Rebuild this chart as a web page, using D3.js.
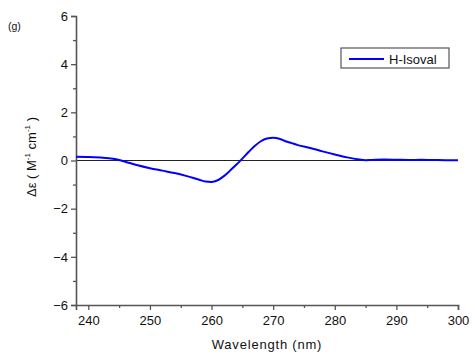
<!DOCTYPE html>
<html>
<head>
<meta charset="utf-8">
<script src="https://cdn.jsdelivr.net/npm/d3@7"></script>
<style>
  body { margin: 0; background: #fff; }
  svg { font-family: "Liberation Sans", Arial, sans-serif; }
</style>
</head>
<body>
<div id="chart"></div>
<script>
// CD spectrum
var wavelength = [238, 240, 242, 244, 245, 246, 248, 250, 252, 254, 256, 258, 259, 260, 261, 262, 263, 264, 265, 266, 267, 268, 269, 270, 271, 272, 273, 274, 276, 278, 280, 282, 284, 285, 286, 288, 290, 292, 294, 296, 298, 300];
var deltaEps   = [0.16, 0.15, 0.12, 0.07, 0.02, -0.05, -0.2, -0.32, -0.42, -0.52, -0.65, -0.8, -0.87, -0.89, -0.82, -0.65, -0.42, -0.18, 0.08, 0.35, 0.6, 0.8, 0.91, 0.94, 0.9, 0.8, 0.72, 0.64, 0.52, 0.38, 0.25, 0.13, 0.04, 0.01, 0.02, 0.04, 0.03, 0.02, 0.03, 0.02, 0.01, 0.01];
var xTicks = [240, 250, 260, 270, 280, 290, 300];
var yTicks = [-6, -4, -2, 0, 2, 4, 6];
var seriesName = 'H-Isoval';

var width = 475, height = 358;
var margin = {left: 76, right: 17, top: 16, bottom: 53};

var svg = d3.select('#chart')
    .append('svg')
    .attr('width', width)
    .attr('height', height);

var x = d3.scaleLinear()
    .domain([238, 300])
    .range([margin.left, width - margin.right]);
var y = d3.scaleLinear()
    .domain([-6, 6])
    .range([height - margin.bottom, margin.top]);

var axisColor = '#555';

// zero line
svg.append('line')
    .attr('x1', x(238)).attr('x2', x(300))
    .attr('y1', y(0)).attr('y2', y(0))
    .attr('stroke', '#222')
    .attr('stroke-width', 1);

// minor ticks
var xMinor = d3.range(245, 300, 10);
var yMinor = d3.range(-5, 6, 2);

svg.append('g')
    .attr('transform', 'translate(0,' + y(-6) + ')')
    .call(d3.axisBottom(x).tickValues(xTicks).tickSize(5).tickPadding(6).tickFormat(d3.format('d')));
svg.append('g')
    .attr('transform', 'translate(0,' + y(-6) + ')')
    .call(d3.axisBottom(x).tickValues(xMinor).tickSize(3).tickFormat(''))
    .call(g => g.select('.domain').remove());

svg.append('g')
    .attr('transform', 'translate(' + x(238) + ',0)')
    .call(d3.axisLeft(y).tickValues(yTicks).tickSize(5).tickPadding(3).tickFormat(d3.format('d')));
svg.append('g')
    .attr('transform', 'translate(' + x(238) + ',0)')
    .call(d3.axisLeft(y).tickValues(yMinor).tickSize(3).tickFormat(''))
    .call(g => g.select('.domain').remove());

svg.selectAll('.domain, .tick line')
    .attr('stroke', axisColor)
    .attr('stroke-width', 1.3);
svg.selectAll('.domain').attr('stroke-width', 1.6);
svg.selectAll('.tick text')
    .attr('fill', '#111')
    .style('font-size', '13px')
    .style('font-family', '"Liberation Sans", Arial, sans-serif');

// curve
var line = d3.line()
    .x(function(d, i) { return x(wavelength[i]); })
    .y(function(d) { return y(d); })
    .curve(d3.curveMonotoneX);

svg.append('path')
    .datum(deltaEps)
    .attr('d', line)
    .attr('fill', 'none')
    .attr('stroke', '#0000ff')
    .attr('stroke-width', 2);

// axis titles
svg.append('text')
    .attr('x', (x(238) + x(300)) / 2)
    .attr('y', 349)
    .attr('text-anchor', 'middle')
    .attr('fill', '#111')
    .style('font-size', '13px')
    .style('letter-spacing', '0.8px')
    .text('Wavelength (nm)');

var ylab = svg.append('text')
    .attr('transform', 'translate(36,157) rotate(-90)')
    .attr('text-anchor', 'middle')
    .attr('fill', '#111')
    .style('font-size', '13px');
ylab.append('tspan').text('\u0394\u03b5 ( M');
ylab.append('tspan').attr('dy', -6).style('font-size', '8px').text('-1');
ylab.append('tspan').attr('dy', 6).text(' cm');
ylab.append('tspan').attr('dy', -6).style('font-size', '8px').text('-1');
ylab.append('tspan').attr('dy', 6).text(' )');

svg.append('text')
    .attr('x', 8)
    .attr('y', 30)
    .attr('fill', '#111')
    .style('font-size', '10.5px')
    .text('(g)');

// legend
var legend = svg.append('g').attr('transform', 'translate(341,48)');
legend.append('rect')
    .attr('width', 108)
    .attr('height', 20)
    .attr('fill', '#fff')
    .attr('stroke', axisColor)
    .attr('stroke-width', 1.2);
legend.append('line')
    .attr('x1', 8).attr('x2', 43)
    .attr('y1', 11).attr('y2', 11)
    .attr('stroke', '#0000ff')
    .attr('stroke-width', 2);
legend.append('text')
    .attr('x', 48)
    .attr('y', 15.5)
    .attr('fill', '#111')
    .style('font-size', '13px')
    .text(seriesName);
</script>
</body>
</html>
